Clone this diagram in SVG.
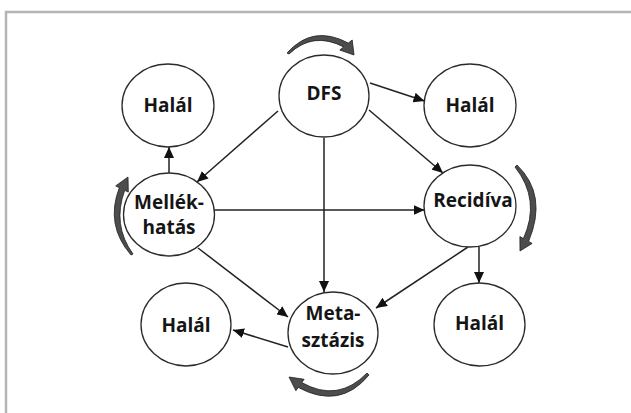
<svg xmlns="http://www.w3.org/2000/svg" width="631" height="413" viewBox="0 0 631 413">
<style>
.node ellipse{fill:#fff;stroke:#2a2a2a;stroke-width:1.3}
.node text{font-family:"Open Sans","DejaVu Sans",sans-serif;font-weight:bold;font-size:19px;fill:#151515;text-anchor:middle}
.conn line{stroke:#222;stroke-width:1.5}
.cyc path{fill:#4d4d4d;stroke:#1e1e1e;stroke-width:0.8;stroke-linejoin:round}
</style>
<defs>
<marker id="ah" markerWidth="12" markerHeight="10" refX="11" refY="5" orient="auto" markerUnits="userSpaceOnUse">
<path d="M0,0 L11,5 L0,10 Z" fill="#111"/>
</marker>
</defs>
<rect width="631" height="413" fill="#fff"/>
<path d="M6,413 V12 H631" fill="none" stroke="#b5b5b5" stroke-width="2.5"/>

<g id="connectors" class="conn">
<line x1="370" y1="83" x2="424.5" y2="101" marker-end="url(#ah)"/>
<line x1="369" y1="110" x2="443" y2="173" marker-end="url(#ah)"/>
<line x1="278" y1="111" x2="197" y2="182" marker-end="url(#ah)"/>
<line x1="324" y1="138" x2="324" y2="292" marker-end="url(#ah)"/>
<line x1="169" y1="173" x2="169" y2="147" marker-end="url(#ah)"/>
<line x1="214.5" y1="210" x2="424.5" y2="210" marker-end="url(#ah)"/>
<line x1="198" y1="248" x2="288" y2="317" marker-end="url(#ah)"/>
<line x1="468" y1="247" x2="376" y2="308" marker-end="url(#ah)"/>
<line x1="479" y1="247" x2="479" y2="283" marker-end="url(#ah)"/>
<line x1="288" y1="347" x2="233" y2="330" marker-end="url(#ah)"/>
</g>

<g id="cycles" class="cyc">
<path d="M287,53 Q313,24 348.3,43.1 L352.2,40 L354,55 L339.8,50 L343.7,46.9 Q313,31 289,54 Z"/>
<path d="M131,255 Q105,225 119.3,187.7 L115.7,185.9 L128,177 L128.3,192.1 L124.7,190.3 Q112,225 133,254 Z"/>
<path d="M517,165 Q548,195 528.6,241.4 L532.1,243.4 L520,251 L519.9,236.6 L523.4,238.6 Q541,200 515,167 Z"/>
<path d="M369,375 Q340,410 298.2,387.4 L295.9,390.7 L289,377 L304.1,379.3 L301.8,382.6 Q338,403 367,373 Z"/>
</g>

<g id="dfs" class="node">
<ellipse cx="324" cy="96" rx="45" ry="41"/>
<text x="324" y="100">DFS</text>
</g>
<g id="halal-tl" class="node">
<ellipse cx="168" cy="105.5" rx="46" ry="41.5"/>
<text x="168" y="112">Halál</text>
</g>
<g id="halal-tr" class="node">
<ellipse cx="470" cy="105.5" rx="46" ry="41.5"/>
<text x="470" y="112">Halál</text>
</g>
<g id="mellekhatas" class="node">
<ellipse cx="169" cy="214.5" rx="45.5" ry="41.5"/>
<text x="169" y="209">Mellék-</text>
<text x="169" y="234">hatás</text>
</g>
<g id="recidiva" class="node">
<ellipse cx="470" cy="206" rx="46" ry="41"/>
<text x="473" y="207">Recidíva</text>
</g>
<g id="halal-bl" class="node">
<ellipse cx="186" cy="324.5" rx="45" ry="41.5"/>
<text x="186" y="332">Halál</text>
</g>
<g id="halal-br" class="node">
<ellipse cx="479.5" cy="324.5" rx="45.5" ry="41.5"/>
<text x="479.5" y="330">Halál</text>
</g>
<g id="metasztazis" class="node">
<ellipse cx="333" cy="333" rx="45" ry="41"/>
<text x="333" y="320">Meta-</text>
<text x="333" y="347">sztázis</text>
</g>
</svg>
